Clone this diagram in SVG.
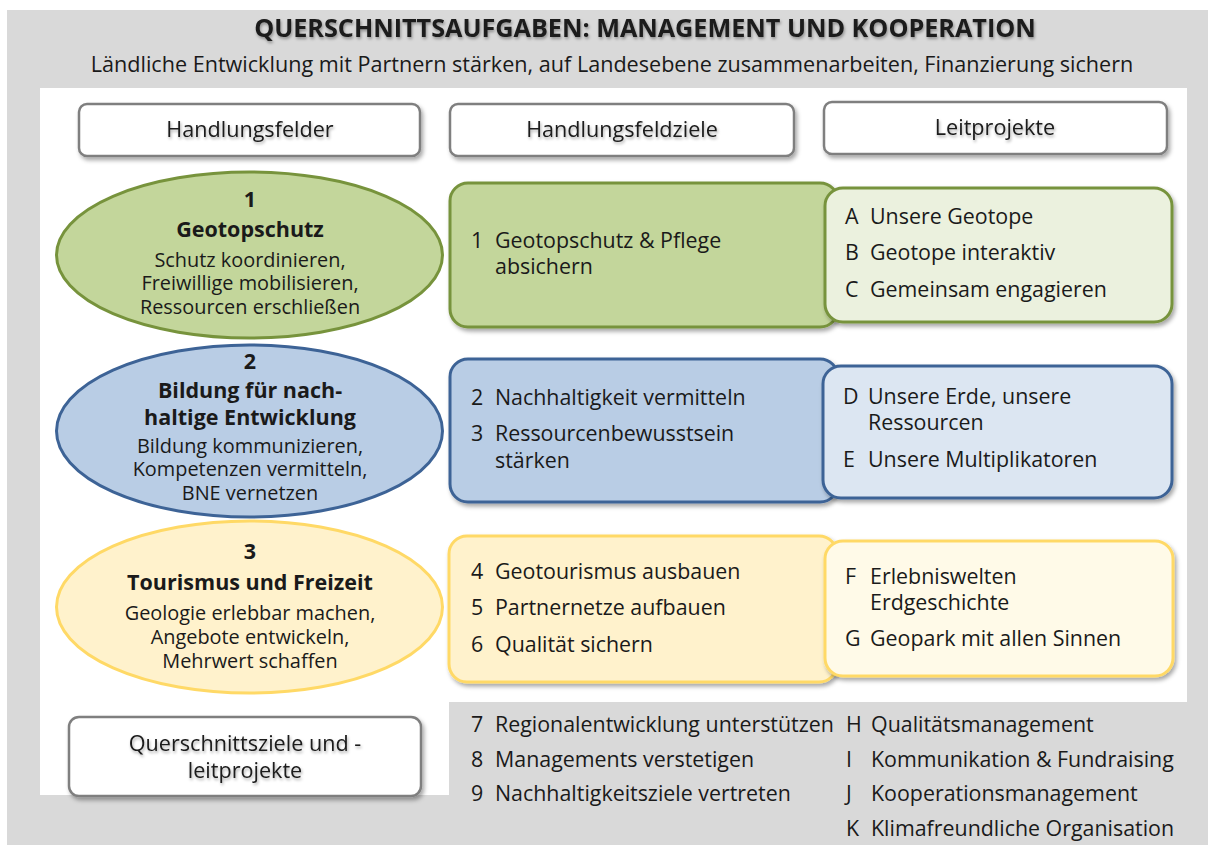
<svg xmlns="http://www.w3.org/2000/svg" width="1208" height="845" viewBox="0 0 1208 845">
  <defs>
    <filter id="shadow" x="-10%" y="-10%" width="125%" height="130%">
      <feDropShadow dx="2" dy="3" stdDeviation="2" flood-color="#000" flood-opacity="0.35"/>
    </filter>
    <filter id="tshadow" x="-5%" y="-30%" width="110%" height="170%">
      <feDropShadow dx="1" dy="2" stdDeviation="1.5" flood-color="#000" flood-opacity="0.35"/>
    </filter>
    <style>
      text { font-family: "Open Sans", "Liberation Sans", sans-serif; fill: #1a1a1a; }
      .title { font-size: 25.2px; font-weight: bold; text-anchor: middle; }
      .sub { font-size: 21.6px; text-anchor: middle; }
      .hdr { font-size: 21.6px; text-anchor: middle; }
      .hbox { fill: #ffffff; stroke: #7f7f7f; stroke-width: 2.5; }
      .ell { font-size: 19.9px; text-anchor: middle; }
      .ellb { font-size: 21.5px; font-weight: bold; text-anchor: middle; }
      .item { font-size: 21.4px; }
      .green { fill: #c3d69b; stroke: #77933c; stroke-width: 3; }
      .green2 { fill: #ebf1de; stroke: #77933c; stroke-width: 3; }
      .blue { fill: #b9cde5; stroke: #3d6396; stroke-width: 3; }
      .blue2 { fill: #dce6f2; stroke: #3d6396; stroke-width: 3; }
      .yellow { fill: #fff2cc; stroke: #ffd966; stroke-width: 3; }
      .yellow2 { fill: #fffae8; stroke: #ffd966; stroke-width: 3; }
    </style>
  </defs>

  <!-- background panels -->
  <rect x="7" y="10" width="1201" height="835" fill="#d9d9d9"/>
  <rect x="40" y="88" width="1147" height="614" fill="#ffffff"/>
  <rect x="40" y="700" width="409" height="95" fill="#ffffff"/>

  <!-- heading -->
  <g id="heading">
    <text class="title" x="645" y="37" filter="url(#tshadow)">QUERSCHNITTSAUFGABEN: MANAGEMENT UND KOOPERATION</text>
    <text class="sub" x="612" y="72">Ländliche Entwicklung mit Partnern stärken, auf Landesebene zusammenarbeiten, Finanzierung sichern</text>
  </g>

  <!-- column headers -->
  <g id="hdr-felder">
    <rect class="hbox" x="79" y="104" width="341" height="52" rx="8" filter="url(#shadow)"/>
    <text class="hdr" x="250" y="137" filter="url(#tshadow)">Handlungsfelder</text>
  </g>
  <g id="hdr-ziele">
    <rect class="hbox" x="450" y="104" width="344" height="52" rx="8" filter="url(#shadow)"/>
    <text class="hdr" x="622" y="137" filter="url(#tshadow)">Handlungsfeldziele</text>
  </g>
  <g id="hdr-leit">
    <rect class="hbox" x="824" y="102" width="343" height="52" rx="8" filter="url(#shadow)"/>
    <text class="hdr" x="995" y="135" filter="url(#tshadow)">Leitprojekte</text>
  </g>

  <!-- field 1 -->
  <g id="feld1">
    <ellipse class="green" cx="249.5" cy="255" rx="193" ry="83"/>
    <text class="ellb" x="250" y="207">1</text>
    <text class="ellb" x="250" y="237">Geotopschutz</text>
    <text class="ell" x="250" y="267">Schutz koordinieren,</text>
    <text class="ell" x="250" y="290">Freiwillige mobilisieren,</text>
    <text class="ell" x="250" y="314">Ressourcen erschließen</text>
  </g>

  <!-- field 2 -->
  <g id="feld2">
    <ellipse class="blue" cx="249.5" cy="431" rx="193" ry="86"/>
    <text class="ellb" x="250" y="369">2</text>
    <text class="ellb" x="250" y="398">Bildung für nach-</text>
    <text class="ellb" x="250" y="425">haltige Entwicklung</text>
    <text class="ell" x="250" y="453">Bildung kommunizieren,</text>
    <text class="ell" x="250" y="476">Kompetenzen vermitteln,</text>
    <text class="ell" x="250" y="500">BNE vernetzen</text>
  </g>

  <!-- field 3 -->
  <g id="feld3">
    <ellipse class="yellow" cx="249.5" cy="607" rx="193" ry="86"/>
    <text class="ellb" x="250" y="559">3</text>
    <text class="ellb" x="250" y="590">Tourismus und Freizeit</text>
    <text class="ell" x="250" y="620">Geologie erlebbar machen,</text>
    <text class="ell" x="250" y="644">Angebote entwickeln,</text>
    <text class="ell" x="250" y="668">Mehrwert schaffen</text>
  </g>

  <!-- cross-cutting label -->
  <g id="querschnitt">
    <rect class="hbox" x="69" y="717" width="352" height="79" rx="10" filter="url(#shadow)"/>
    <text class="hdr" x="245" y="751" filter="url(#tshadow)">Querschnittsziele und -</text>
    <text class="hdr" x="245" y="778" filter="url(#tshadow)">leitprojekte</text>
  </g>

  <!-- goals and lead projects, field 1 -->
  <g id="ziele1">
    <rect class="green" x="450" y="183" width="388" height="144" rx="18" filter="url(#shadow)"/>
    <text class="item" x="471" y="248">1</text>
    <text class="item" x="495" y="248">Geotopschutz &amp; Pflege</text>
    <text class="item" x="495" y="274">absichern</text>
  </g>
  <g id="leit1">
    <rect class="green2" x="825" y="188" width="347" height="134" rx="18" filter="url(#shadow)"/>
    <text class="item" x="845" y="224">A</text>
    <text class="item" x="870" y="224">Unsere Geotope</text>
    <text class="item" x="845" y="260">B</text>
    <text class="item" x="870" y="260">Geotope interaktiv</text>
    <text class="item" x="845" y="297">C</text>
    <text class="item" x="870" y="297">Gemeinsam engagieren</text>
  </g>

  <!-- goals and lead projects, field 2 -->
  <g id="ziele2">
    <rect class="blue" x="450" y="359" width="388" height="143" rx="18" filter="url(#shadow)"/>
    <text class="item" x="471" y="405">2</text>
    <text class="item" x="495" y="405">Nachhaltigkeit vermitteln</text>
    <text class="item" x="471" y="441">3</text>
    <text class="item" x="495" y="441">Ressourcenbewusstsein</text>
    <text class="item" x="495" y="468">stärken</text>
  </g>
  <g id="leit2">
    <rect class="blue2" x="823" y="366" width="349" height="132" rx="18" filter="url(#shadow)"/>
    <text class="item" x="843" y="404">D</text>
    <text class="item" x="868" y="404">Unsere Erde, unsere</text>
    <text class="item" x="868" y="430">Ressourcen</text>
    <text class="item" x="843" y="467">E</text>
    <text class="item" x="868" y="467">Unsere Multiplikatoren</text>
  </g>

  <!-- goals and lead projects, field 3 -->
  <g id="ziele3">
    <rect class="yellow" x="449" y="536" width="388" height="146" rx="18" filter="url(#shadow)"/>
    <text class="item" x="471" y="579">4</text>
    <text class="item" x="495" y="579">Geotourismus ausbauen</text>
    <text class="item" x="471" y="615">5</text>
    <text class="item" x="495" y="615">Partnernetze aufbauen</text>
    <text class="item" x="471" y="652">6</text>
    <text class="item" x="495" y="652">Qualität sichern</text>
  </g>
  <g id="leit3">
    <rect class="yellow2" x="825" y="541" width="348" height="135" rx="18" filter="url(#shadow)"/>
    <text class="item" x="845" y="584">F</text>
    <text class="item" x="870" y="584">Erlebniswelten</text>
    <text class="item" x="870" y="610">Erdgeschichte</text>
    <text class="item" x="845" y="646">G</text>
    <text class="item" x="870" y="646">Geopark mit allen Sinnen</text>
  </g>

  <!-- cross-cutting goals -->
  <g id="querziele">
    <text class="item" x="471" y="732">7</text>
    <text class="item" x="495" y="732">Regionalentwicklung unterstützen</text>
    <text class="item" x="471" y="767">8</text>
    <text class="item" x="495" y="767">Managements verstetigen</text>
    <text class="item" x="471" y="801">9</text>
    <text class="item" x="495" y="801">Nachhaltigkeitsziele vertreten</text>
  </g>
  <!-- cross-cutting lead projects -->
  <g id="querleit">
    <text class="item" x="846" y="732">H</text>
    <text class="item" x="871" y="732">Qualitätsmanagement</text>
    <text class="item" x="846" y="767">I</text>
    <text class="item" x="871" y="767">Kommunikation &amp; Fundraising</text>
    <text class="item" x="846" y="801">J</text>
    <text class="item" x="871" y="801">Kooperationsmanagement</text>
    <text class="item" x="846" y="836">K</text>
    <text class="item" x="871" y="836">Klimafreundliche Organisation</text>
  </g>

  <!-- connectors: none drawn in this layout -->
  <g id="connectors"/>
</svg>
